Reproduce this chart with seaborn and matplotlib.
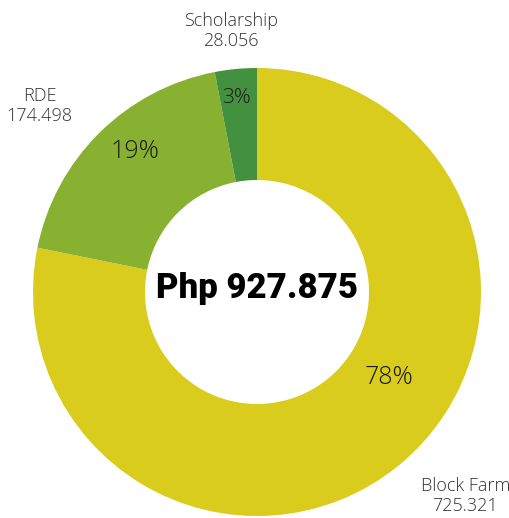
import numpy as np
import matplotlib
matplotlib.use("Agg")
import matplotlib.pyplot as plt
from matplotlib import font_manager
import seaborn as sns

# data
categories = ["Block Farm", "RDE", "Scholarship"]
amounts = [725.321, 174.498, 28.056]
amount_labels = ["725.321", "174.498", "28.056"]
pct_labels = ["78%", "19%", "3%"]
total_label = "Php 927.875"

colors = ["#D9CC1C", "#88B132", "#43913E"]

sns.set_theme(style="white")
plt.rcParams["font.family"] = ["Open Sans", "DejaVu Sans"]

installed = {f.name for f in font_manager.fontManager.ttflist}
big_font = "DejaVu Sans"
for name in ["Liberation Sans Narrow", "DejaVu Sans Condensed", "Roboto"]:
    if name in installed:
        big_font = name
        break

fig = plt.figure(figsize=(5.09, 5.18), dpi=100)
ax = fig.add_axes([0, 0, 1, 1])

wedges, _ = ax.pie(amounts, colors=colors, startangle=90, counterclock=False,
                   radius=1, wedgeprops=dict(width=0.5, linewidth=0))

# percent labels inside the ring (radius, angle in degrees)
pct_pos = [(0.70, -33), (0.83, 131), (0.87, 96)]
pct_size = [18, 18, 15]
for lab, (r, a), s in zip(pct_labels, pct_pos, pct_size):
    t = np.deg2rad(a)
    ax.text(r * np.cos(t), r * np.sin(t), lab, ha="center", va="center",
            fontsize=s, fontweight="light", color="#1a1a1a")

# outside labels
out_pos = [(0.93, -0.91), (-0.97, 0.83), (-0.115, 1.165)]
for cat, amt, (x, y) in zip(categories, amount_labels, out_pos):
    ax.text(x, y, f"{cat}\n{amt}", ha="center", va="center", fontsize=13,
            fontweight="light", color="#333333", linespacing=1.15)

ax.text(0, 0.015, total_label, ha="center", va="center", fontsize=25,
        fontweight="heavy", color="black", family=big_font)

ax.set_xlim(-257 / 224, 252 / 224)
ax.set_ylim(-226 / 224, 292 / 224)
ax.set_aspect("equal")
ax.axis("off")

fig.savefig("out.png", dpi=100, facecolor="white")
